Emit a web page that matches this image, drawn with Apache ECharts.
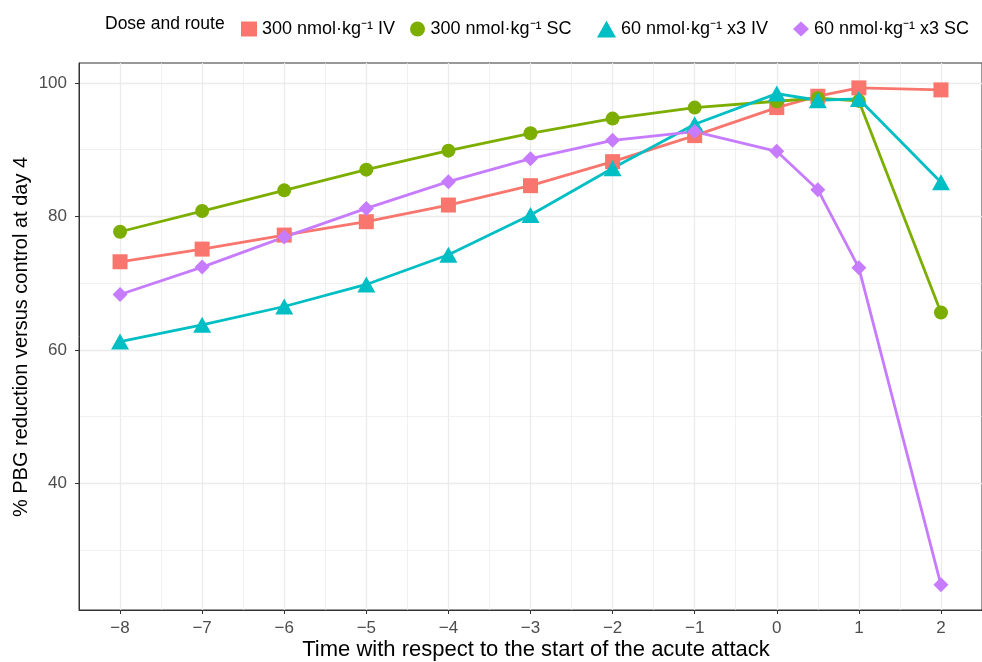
<!DOCTYPE html>
<html>
<head>
<meta charset="utf-8">
<script src="https://cdn.jsdelivr.net/npm/echarts@6/dist/echarts.min.js"></script>
<style>html,body{margin:0;padding:0;background:#fff}#c{width:982px;height:662px}</style>
</head>
<body>
<div id="c"></div>
<script>
const xValues = [-8, -7, -6, -5, -4, -3, -2, -1, 0, 0.5, 1, 2];
const iv300 = [73.2, 75.1, 77.2, 79.2, 81.7, 84.6, 88.2, 92.1, 96.3, 98.0, 99.25, 98.95];
const sc300 = [77.7, 80.8, 83.9, 87.0, 89.85, 92.45, 94.65, 96.3, 97.25, 97.7, 97.3, 65.6];
const iv60x3 = [61.25, 63.75, 66.5, 69.8, 74.25, 80.2, 87.2, 93.8, 98.4, 97.4, 97.6, 85.1];
const sc60x3 = [68.3, 72.4, 76.9, 81.2, 85.2, 88.65, 91.4, 92.7, 89.75, 84.0, 72.3, 24.8];

const seriesNames = ['300 nmol\u00b7kg\u207b\u00b9 IV', '300 nmol\u00b7kg\u207b\u00b9 SC', '60 nmol\u00b7kg\u207b\u00b9 x3 IV', '60 nmol\u00b7kg\u207b\u00b9 x3 SC'];
const seriesValues = [iv300, sc300, iv60x3, sc60x3];
const colors = ['#F8766D', '#7CAE00', '#00BFC4', '#C77CFF'];
const symbols = ['rect', 'circle', 'triangle', 'diamond'];
const symbolSizes = [15, 14, [18, 16], 15];
const legendLefts = [236, 405, 592, 788];

const xTicks = [-8, -7, -6, -5, -4, -3, -2, -1, 0, 1, 2];
const xMinorGrid = [-7.5, -6.5, -5.5, -4.5, -3.5, -2.5, -1.5, -0.5, 0.5, 1.5];
const yTicks = [40, 60, 80, 100];
const yMinorGrid = [30, 50, 70, 90];

const fmt = v => (v < 0 ? '\u2212' + Math.abs(v) : String(v));
const font = 'Liberation Sans, Arial, sans-serif';

const series = [];
// grid lines
series.push({
  type: 'line', data: [], z: 0, silent: true,
  markLine: {
    z: 0, silent: true, symbol: ['none', 'none'], label: { show: false }, animation: false,
    emphasis: { disabled: true },
    data: [
      ...yMinorGrid.map(v => ({ yAxis: v, lineStyle: { color: '#ebebeb', width: 0.7, type: 'solid' } })),
      ...xMinorGrid.map(v => ({ xAxis: v, lineStyle: { color: '#ebebeb', width: 0.7, type: 'solid' } })),
      ...yTicks.map(v => ({ yAxis: v, lineStyle: { color: '#ebebeb', width: 1.3, type: 'solid' } })),
      ...xTicks.map(v => ({ xAxis: v, lineStyle: { color: '#ebebeb', width: 1.3, type: 'solid' } }))
    ]
  }
});
seriesValues.forEach((vals, i) => {
  const data = xValues.map((x, j) => [x, vals[j]]);
  series.push({
    name: seriesNames[i], type: 'line', data, showSymbol: false, z: 2,
    lineStyle: { color: colors[i], width: 2.8 }, itemStyle: { color: colors[i] },
    emphasis: { disabled: true }
  });
});
seriesValues.forEach((vals, i) => {
  const data = xValues.map((x, j) => [x, vals[j]]);
  series.push({
    name: seriesNames[i], type: 'scatter', data, z: 3,
    symbol: symbols[i], symbolSize: symbolSizes[i],
    itemStyle: { color: colors[i], opacity: 1 },
    emphasis: { disabled: true }
  });
});

const legends = seriesNames.map((n, i) => ({
  left: legendLefts[i], top: 15, itemWidth: i === 2 ? 19 : 16, itemHeight: i === 2 ? 17 : 15,
  textStyle: { fontSize: 18, fontFamily: font, color: '#000' },
  data: [{ name: n, icon: symbols[i], itemStyle: { color: colors[i] } }],
  selectedMode: false
}));

const chart = echarts.init(document.getElementById('c'), null, { renderer: 'canvas' });
chart.setOption({
  animation: false,
  backgroundColor: '#ffffff',
  grid: { left: 79, right: -9, top: 63, bottom: 52, show: true, borderColor: '#333333', borderWidth: 1, backgroundColor: 'transparent', containLabel: false },
  xAxis: {
    type: 'value', min: -8.5, max: 2.5,
    axisLine: { show: true, onZero: false, lineStyle: { color: '#333333', width: 1 } },
    axisTick: { show: true, length: 4, customValues: xTicks, lineStyle: { color: '#333333' } },
    axisLabel: { customValues: xTicks, formatter: fmt, color: '#4d4d4d', fontSize: 17, fontFamily: font, margin: 10 },
    splitLine: { show: false }
  },
  yAxis: {
    type: 'value', min: 21.03, max: 102.98,
    axisLine: { show: true, onZero: false, lineStyle: { color: '#333333', width: 1 } },
    axisTick: { show: true, length: 4, customValues: yTicks, lineStyle: { color: '#333333' } },
    axisLabel: { customValues: yTicks, formatter: fmt, color: '#4d4d4d', fontSize: 17, fontFamily: font, margin: 12 },
    splitLine: { show: false }
  },
  legend: legends,
  graphic: [
    { type: 'text', x: 105, y: 24, style: { text: 'Dose and route', fontSize: 17.5, fontFamily: font, fill: '#000', align: 'left', verticalAlign: 'middle' } },
    { type: 'text', x: 536, y: 650, style: { text: 'Time with respect to the start of the acute attack', fontSize: 22, fontFamily: font, fill: '#000', align: 'center', verticalAlign: 'middle' } },
    { type: 'text', x: 21, y: 337, rotation: Math.PI / 2, style: { text: '% PBG reduction versus control at day 4', fontSize: 20, fontFamily: font, fill: '#000', align: 'center', verticalAlign: 'middle' } }
  ],
  series
});
</script>
</body>
</html>
